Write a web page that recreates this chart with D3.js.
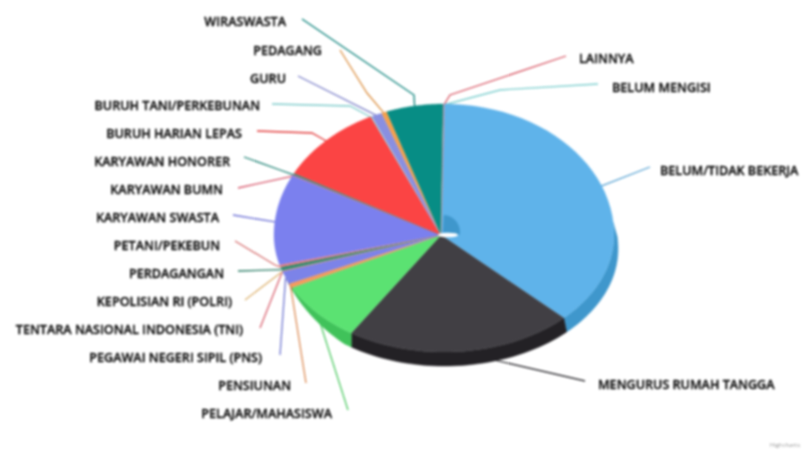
<!DOCTYPE html>
<html>
<head>
<meta charset="utf-8">
<script src="https://cdnjs.cloudflare.com/ajax/libs/d3/7.8.5/d3.min.js"></script>
<style>
  html, body { margin: 0; padding: 0; background: #fff; }
  svg { display: block; filter: blur(0.8px); }
  text { font-family: "Open Sans", sans-serif; font-weight: 600; fill: #111; stroke: #111; stroke-width: 0.35; }
</style>
</head>
<body>
<div id="chart"></div>
<script>
var categories = ["BELUM/TIDAK BEKERJA", "MENGURUS RUMAH TANGGA", "PELAJAR/MAHASISWA", "PENSIUNAN",
  "PEGAWAI NEGERI SIPIL (PNS)", "TENTARA NASIONAL INDONESIA (TNI)", "KEPOLISIAN RI (POLRI)", "PERDAGANGAN",
  "PETANI/PEKEBUN", "KARYAWAN SWASTA", "KARYAWAN BUMN", "KARYAWAN HONORER", "BURUH HARIAN LEPAS",
  "BURUH TANI/PERKEBUNAN", "GURU", "PEDAGANG", "WIRASWASTA", "BELUM MENGISI", "LAINNYA"];
// percent
var values = [37.5, 21.6, 8.4, 0.6, 1.8, 0.05, 0.05, 0.5, 0.3, 11.6, 0.1, 0.2, 10.1, 0.1, 1.0, 0.5, 5.4, 0.03, 0.03];
var colors = ["#5fb3ea", "#413f44", "#5be272", "#f59a5c", "#7c83e8", "#f26d7d", "#f7c77e", "#2f8a70",
  "#ee7b7b", "#7b80ee", "#f0647a", "#1f8f80", "#fb4444", "#8fe3e3", "#8a8fe0", "#f5a04a", "#078d85", "#8fe8e8", "#ef5b6b"];
var wallColors = {0: "#3f97cc", 1: "#232125", 2: "#40c25a"};

// label layout: text right end / left start, baseline, leader start and bend
var labelLayout = [
  {a: "start", x: 660, y: 175, from: [650, 167]},
  {a: "start", x: 598, y: 389, from: [585, 381]},
  {a: "end", x: 332, y: 418, from: [348, 410]},
  {a: "end", x: 291, y: 390, from: [306, 383]},
  {a: "end", x: 262, y: 362, from: [280, 355]},
  {a: "end", x: 243, y: 334, from: [260, 328]},
  {a: "end", x: 232, y: 306, from: [245, 300]},
  {a: "end", x: 224, y: 278, from: [238, 271]},
  {a: "end", x: 220, y: 250, from: [235, 241], bend: [275, 265]},
  {a: "end", x: 219, y: 222, from: [233, 215]},
  {a: "end", x: 223, y: 194, from: [238, 188]},
  {a: "end", x: 230, y: 166, from: [244, 157], bend: [280, 170]},
  {a: "end", x: 242, y: 138, from: [257, 131], bend: [312, 133]},
  {a: "end", x: 260, y: 110, from: [272, 104], bend: [350, 106]},
  {a: "end", x: 286, y: 83, from: [298, 76]},
  {a: "end", x: 322, y: 55, from: [340, 50], bend: [367, 93]},
  {a: "end", x: 286, y: 26, from: [302, 19], bend: [414, 95]},
  {a: "start", x: 612, y: 92, from: [598, 84], bend: [500, 90]},
  {a: "start", x: 579, y: 63, from: [566, 56], bend: [450, 95]}
];

var width = 802, height = 450;
// the apex sits below and left of the middle of the rim because of the perspective
var cx = 444, cy = 235, apexX = 441, rx = 170, ryBack = 131, ryFront = 117, depth = 14;

var svg = d3.select("#chart").append("svg")
  .attr("width", width).attr("height", height);

var slices = d3.pie().sort(null).value(function(d){ return d; })(values);
slices.forEach(function(s, i){ s.i = i; });

function px(a){ return cx + rx * Math.sin(a); }
function py(a){
  var c = Math.cos(a);
  return cy - c * (c > 0 ? ryBack : ryFront);
}
function sweep(a0, a1){
  return d3.range(0, 41).map(function(k){ return a0 + (a1 - a0) * k / 40; });
}
function wallColor(i){
  return wallColors[i] || d3.color(colors[i]).darker(0.65);
}
// wall height fades out towards the left of the front
var wallDepth = d3.scaleLinear()
  .domain([Math.PI * 1.2, Math.PI * 1.38]).range([depth, 0]).clamp(true);

function face(s){
  var rim = sweep(s.startAngle, s.endAngle).map(function(a){ return [px(a), py(a)]; });
  return d3.line()([[apexX, cy]].concat(rim)) + "Z";
}
function wall(s){
  var a0 = Math.max(s.startAngle, Math.PI * 0.47), a1 = Math.min(s.endAngle, Math.PI * 1.38);
  if(a1 <= a0) return null;
  var pts = sweep(a0, a1);
  var top = pts.map(function(a){ return [px(a), py(a)]; });
  var bot = pts.slice().reverse().map(function(a){
    return [px(a) + 4 * Math.max(0, Math.sin(a)), py(a) + wallDepth(a)];
  });
  return d3.line()(top.concat(bot)) + "Z";
}

// leaders go first so the pie hides their far ends
svg.append("g").selectAll("path")
  .data(slices)
  .enter().append("path")
    .attr("fill", "none")
    .attr("stroke", function(d){ return d3.color(colors[d.i]).darker(0.3); })
    .attr("stroke-width", 1.3)
    .attr("d", function(d){
      var l = labelLayout[d.i];
      var mid = (d.startAngle + d.endAngle) / 2;
      var pts = [l.from];
      if(l.bend) pts.push(l.bend);
      pts.push([px(mid), py(mid) + 1]);
      return d3.line()(pts);
    });

svg.append("g").selectAll("path")
  .data(slices.filter(wall))
  .enter().append("path")
    .attr("d", wall)
    .attr("fill", function(d){ return wallColor(d.i); })
    .attr("stroke", function(d){ return wallColor(d.i); })
    .attr("stroke-width", 0.5);

svg.append("g").selectAll("path")
  .data(slices)
  .enter().append("path")
    .attr("d", face)
    .attr("fill", function(d){ return colors[d.i]; })
    .attr("stroke", function(d){ return colors[d.i]; })
    .attr("stroke-width", 0.3);

// inner wall and the gap at the middle of the pie
svg.append("path")
  .attr("d", d3.arc().innerRadius(0).outerRadius(17).startAngle(0.05).endAngle(Math.PI * 0.55)())
  .attr("transform", "translate(443,232)")
  .attr("fill", "#3f97cc");
svg.append("ellipse")
  .attr("cx", 448).attr("cy", 235)
  .attr("rx", 10).attr("ry", 2.3)
  .attr("fill", "#fff");

svg.append("g").selectAll("text")
  .data(categories)
  .enter().append("text")
    .attr("x", function(d, i){ return labelLayout[i].x; })
    .attr("y", function(d, i){ return labelLayout[i].y; })
    .attr("text-anchor", function(d, i){ return labelLayout[i].a; })
    .attr("font-size", 12.6)
    .text(function(d){ return d; });

svg.append("text")
  .attr("x", 800).attr("y", 447)
  .attr("text-anchor", "end")
  .attr("font-size", 6)
  .style("font-weight", 400)
  .style("stroke", "none")
  .style("fill", "#999")
  .text("Highcharts");
</script>
</body>
</html>
